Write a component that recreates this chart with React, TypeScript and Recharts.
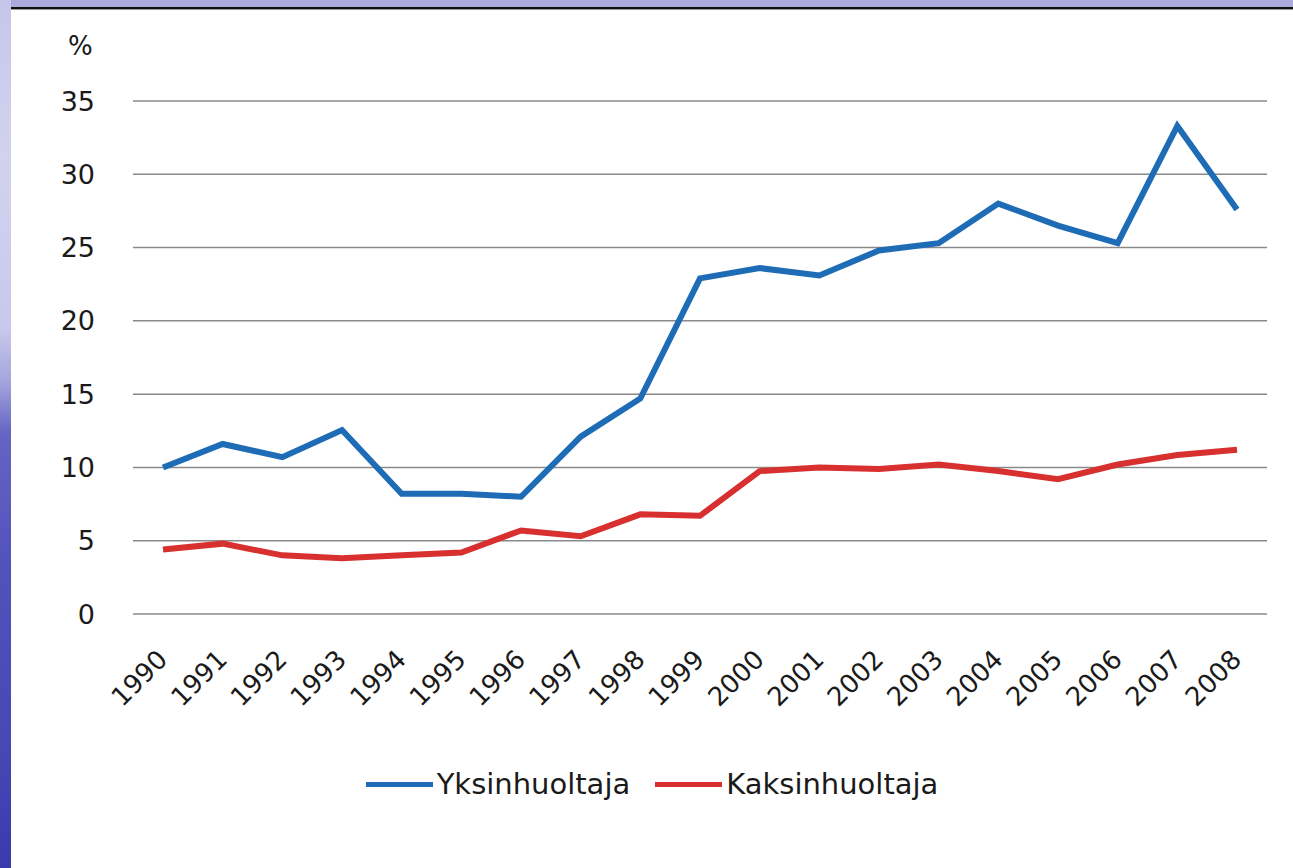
import { LineChart, Line, XAxis, YAxis, CartesianGrid, Legend } from 'recharts'

const years = ['1990', '1991', '1992', '1993', '1994', '1995', '1996', '1997', '1998', '1999',
    '2000', '2001', '2002', '2003', '2004', '2005', '2006', '2007', '2008']
const yksinhuoltaja = [10.0, 11.6, 10.7, 12.55, 8.2, 8.2, 8.0, 12.1, 14.7, 22.9,
    23.6, 23.1, 24.8, 25.3, 28.0, 26.5, 25.3, 33.3, 27.6]
const kaksinhuoltaja = [4.4, 4.8, 4.0, 3.8, 4.0, 4.2, 5.7, 5.3, 6.8, 6.7,
    9.75, 10.0, 9.9, 10.2, 9.75, 9.2, 10.2, 10.85, 11.2]
const yTicks = [0, 5, 10, 15, 20, 25, 30, 35]

const series = [
    { key: 'Yksinhuoltaja', color: '#1f6cb6' },
    { key: 'Kaksinhuoltaja', color: '#d7302e' },
]

const data = years.map((year, i) => ({
    year,
    Yksinhuoltaja: yksinhuoltaja[i],
    Kaksinhuoltaja: kaksinhuoltaja[i],
}))

const font = '"DejaVu Sans", Verdana, sans-serif'
const textColor = '#1a1a1a'

const XTick = ({ x, y, payload }: any) => <g transform={`translate(${x + 6},${y + 47})`}>
    <text textAnchor='end' transform='rotate(-45)' fill={textColor} fontSize={26} fontFamily={font}>
        {payload.value}
    </text>
</g>

const LegendContent = () => <div style={{ display: 'flex', justifyContent: 'center', alignItems: 'center', gap: 25 }}>
    {series.map(s => <div key={s.key} style={{ display: 'flex', alignItems: 'center' }}>
        <div style={{ width: 67, height: 5, background: s.color, marginRight: 4 }} />
        <span style={{ fontFamily: font, fontSize: 29, color: textColor }}>{s.key}</span>
    </div>)}
</div>

export default function App() {
    return <div style={{ position: 'absolute', left: 0, top: 0, width: 1293, height: 868, background: 'white', overflow: 'hidden' }}>
        <div style={{ position: 'absolute', left: 0, top: 0, width: 1293, height: 7, background: '#aaaadd' }} />
        <div style={{ position: 'absolute', left: 0, top: 7, width: 1293, height: 2, background: '#111' }} />
        <div style={{ position: 'absolute', left: 11, top: 9, width: 1282, height: 1, background: '#999' }} />
        <div style={{
            position: 'absolute', left: 0, top: 0, width: 11, height: 868,
            background: 'linear-gradient(to bottom, #c6c6ea 0%, #d2d2ef 18%, #c8c8ec 38%, #a4a4dc 44%, #6464c4 50%, #5252bc 65%, #4848b6 85%, #3a3aac 100%)'
        }} />
        <div style={{ position: 'absolute', left: 68, top: 31, fontFamily: font, fontSize: 26, color: textColor }}>%</div>
        <div style={{ position: 'absolute', left: 11, top: 9 }}>
            <LineChart width={1282} height={859} data={data} margin={{ top: 92, right: 26, left: 0, bottom: 174 }}>
                <CartesianGrid vertical={false} stroke='#8a8a8a' strokeWidth={1.5} />
                <XAxis dataKey='year' axisLine={false} tickLine={false} tickSize={0} tickMargin={0}
                    padding={{ left: 30, right: 30 }} height={80} interval={0} tick={<XTick />} />
                <YAxis domain={[0, 35]} ticks={yTicks} axisLine={false} tickLine={false} width={122}
                    tickSize={0} tickMargin={38} tick={{ fill: textColor, fontSize: 27, fontFamily: font }} />
                {series.map(s => <Line key={s.key} type='linear' dataKey={s.key} stroke={s.color} strokeWidth={6}
                    dot={false} isAnimationActive={false} />)}
                <Legend layout='horizontal' verticalAlign='middle' align='center' content={<LegendContent />}
                    wrapperStyle={{ top: 758, left: 0, width: 1282 }} />
            </LineChart>
        </div>
    </div>
}
